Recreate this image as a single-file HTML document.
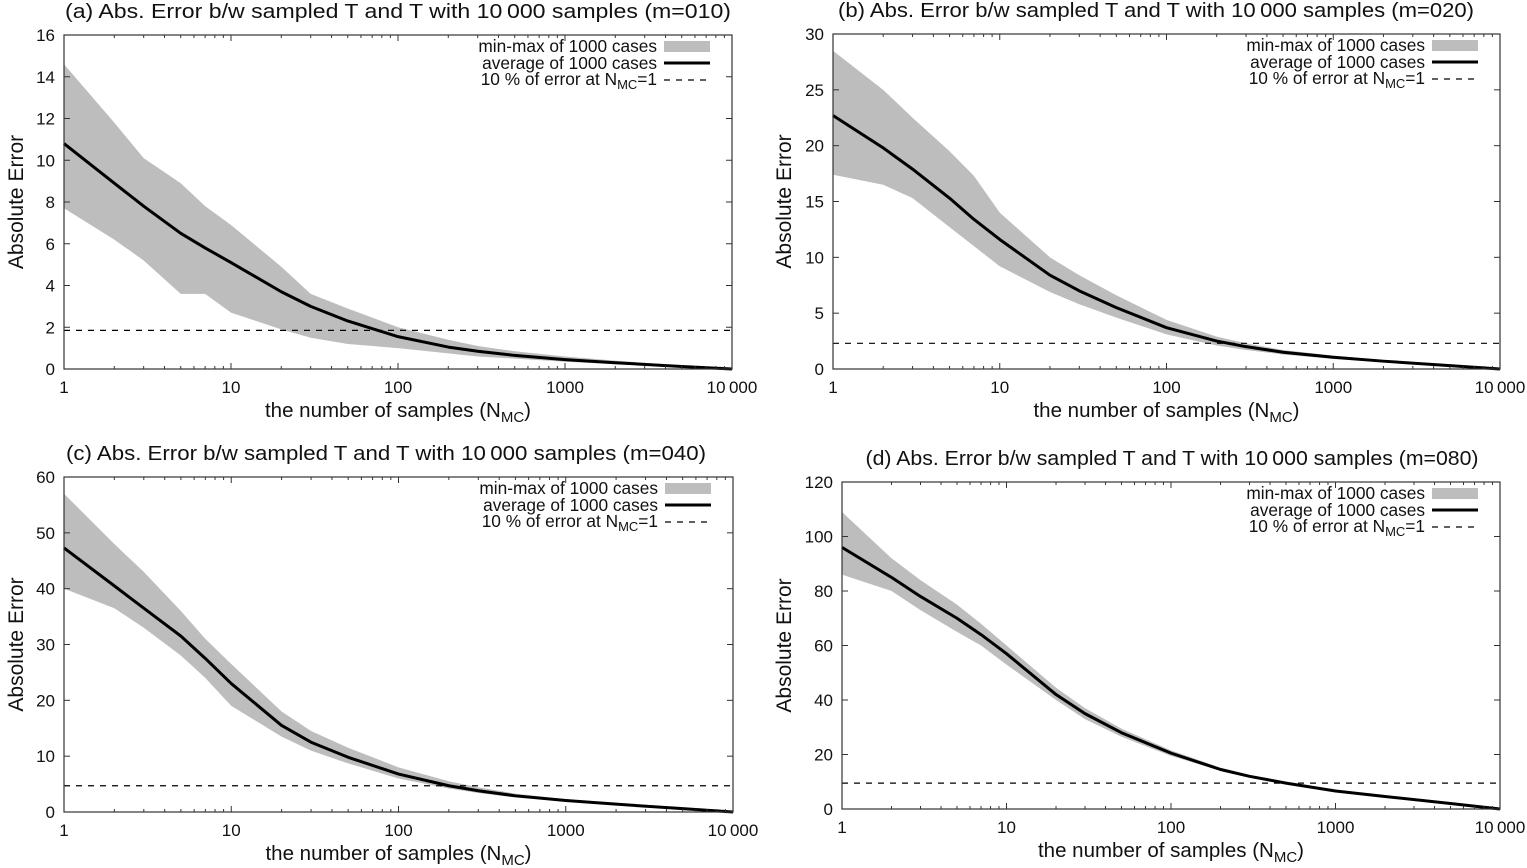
<!DOCTYPE html>
<html><head><meta charset="utf-8">
<style>
html,body{margin:0;padding:0;background:#fff;}
svg{display:block;font-family:"Liberation Sans",Arial,sans-serif;}
</style></head>
<body>
<svg id="fig" width="1527" height="868" viewBox="0 0 1527 868" xmlns="http://www.w3.org/2000/svg"></svg>
<script>
const xVals = [1,2,3,5,7,10,20,30,50,100,200,300,500,1000,2000,5000,10000];
const xTickLabels = ["1","10","100","1000","10\u2009000"];
const panelTitles = ["(a) Abs. Error b/w sampled T and T with 10\u2009000 samples (m=010)","(b) Abs. Error b/w sampled T and T with 10\u2009000 samples (m=020)","(c) Abs. Error b/w sampled T and T with 10\u2009000 samples (m=040)","(d) Abs. Error b/w sampled T and T with 10\u2009000 samples (m=080)"];
const yMaxes = [16,30,60,120];
const yTickLabelsA = [0,2,4,6,8,10,12,14,16];
const yTickLabelsB = [0,5,10,15,20,25,30];
const yTickLabelsC = [0,10,20,30,40,50,60];
const yTickLabelsD = [0,20,40,60,80,100,120];
const avgA = [10.8,8.9,7.8,6.5,5.8,5.1,3.7,3.0,2.3,1.55,1.05,0.85,0.65,0.45,0.3,0.12,0];
const maxA = [14.6,11.8,10.1,8.9,7.8,6.9,4.9,3.6,2.9,2.0,1.4,1.1,0.85,0.6,0.4,0.17,0];
const minA = [7.7,6.2,5.2,3.6,3.6,2.7,1.9,1.5,1.2,1.0,0.75,0.6,0.5,0.35,0.23,0.09,0];
const avgB = [22.7,19.8,17.9,15.3,13.4,11.6,8.4,7.0,5.5,3.7,2.5,2.0,1.5,1.05,0.7,0.3,0];
const maxB = [28.5,25,22.5,19.5,17.3,14,10,8.4,6.6,4.4,2.9,2.3,1.7,1.2,0.8,0.35,0];
const minB = [17.4,16.5,15.3,12.7,11,9.2,6.9,5.8,4.6,3.1,2.1,1.7,1.3,0.9,0.6,0.27,0];
const avgC = [47.3,40.5,36.5,31.5,27.5,23,15.5,12.5,9.8,6.8,4.7,3.8,2.9,2.05,1.4,0.6,0];
const maxC = [57,48,43,36,31,26.5,18,14.5,11.5,8,5.5,4.4,3.3,2.3,1.55,0.7,0];
const minC = [40,36.5,33,28,24,19,13.5,11,8.7,6,4.2,3.4,2.6,1.85,1.25,0.55,0];
const avgD = [96,85,78,70,64,57,42,35,28,20.5,14.5,12,9.5,6.6,4.6,2,0];
const maxD = [109,92,84,75,68,60,44.5,37,29.5,21.5,15.2,12.5,9.8,6.9,4.8,2.1,0];
const minD = [86,80,73,65,60,53,40,33,26.5,19.5,14,11.5,9.2,6.4,4.4,1.9,0];
const refLines = [1.85,2.3,4.7,9.5];

const NS="http://www.w3.org/2000/svg";
const svg=document.getElementById('fig');
function mk(tag,attrs,parent,text){const e=document.createElementNS(NS,tag);for(const k in attrs)e.setAttribute(k,attrs[k]);if(text!==undefined)e.textContent=text;(parent||svg).appendChild(e);return e;}

const panels=[
 {L:64,R:732,T:35,B:369,ticks:yTickLabelsA,avg:avgA,mx:maxA,mn:minA,yl:3,tc:398,tw:666},
 {L:833,R:1500,T:34,B:369,ticks:yTickLabelsB,avg:avgB,mx:maxB,mn:minB,yl:771,tc:1156,tw:636},
 {L:64,R:733,T:477,B:812,ticks:yTickLabelsC,avg:avgC,mx:maxC,mn:minC,yl:3,tc:386,tw:640},
 {L:842,R:1500,T:482,B:809,ticks:yTickLabelsD,avg:avgD,mx:maxD,mn:minD,yl:771,tc:1172,tw:613}
];
panels.forEach((p,i)=>{
  const g=mk('g',{});
  
  
  const xs=v=>p.L+Math.log10(v)/4*(p.R-p.L);
  const ys=v=>p.B-v/yMaxes[i]*(p.B-p.T);
  const t=mk('text',{x:p.tc,y:p.T-17,'text-anchor':'middle','font-size':20.5,fill:'#111',textLength:p.tw,lengthAdjust:'spacingAndGlyphs'},g,panelTitles[i]);
  
  
  let d='M'+xVals.map((v,k)=>xs(v)+','+ys(p.mx[k])).join('L');
  for(let k=xVals.length-1;k>=0;k--)d+='L'+xs(xVals[k])+','+ys(p.mn[k]);
  const band=mk('path',{d:d+'Z',fill:'#bdbdbd',stroke:'none'},g);
  
  
  const ref=mk('line',{x1:p.L,x2:p.R,y1:ys(refLines[i]),y2:ys(refLines[i]),stroke:'#000','stroke-width':1.2,'stroke-dasharray':'6,6'},g);
  
  
  const avg=mk('path',{d:'M'+xVals.map((v,k)=>xs(v)+','+ys(p.avg[k])).join('L'),fill:'none',stroke:'#000','stroke-width':3,'stroke-linejoin':'round'},g);
  
  
  const fr=mk('rect',{x:p.L,y:p.T,width:p.R-p.L,height:p.B-p.T,fill:'none',stroke:'#333','stroke-width':1.2},g);
  
  
  p.ticks.forEach(v=>{
    const y=ys(v);
    mk('line',{x1:p.L,x2:p.L+6,y1:y,y2:y,stroke:'#333'},g);
    mk('line',{x1:p.R,x2:p.R-6,y1:y,y2:y,stroke:'#333'},g);
    const l=mk('text',{x:p.L-9,y:y+6,'text-anchor':'end','font-size':17,fill:'#111'},g,String(v));
    
    
  });
  for(let dec=0;dec<=4;dec++){
    const x=xs(Math.pow(10,dec));
    mk('line',{x1:x,x2:x,y1:p.B,y2:p.B-6,stroke:'#333'},g);
    mk('line',{x1:x,x2:x,y1:p.T,y2:p.T+6,stroke:'#333'},g);
    const l=mk('text',{x:x,y:p.B+24,'text-anchor':'middle','font-size':17,fill:'#111'},g,xTickLabels[dec]);
    
    
    if(dec<4)for(let m=2;m<=9;m++){const xm=xs(m*Math.pow(10,dec));
      mk('line',{x1:xm,x2:xm,y1:p.B,y2:p.B-3,stroke:'#333'},g);
      mk('line',{x1:xm,x2:xm,y1:p.T,y2:p.T+3,stroke:'#333'},g);}
  }
  const xl=mk('text',{x:(p.L+p.R)/2,y:p.B+48,'text-anchor':'middle','font-size':20.5,fill:'#111'},g);
  
  
  xl.innerHTML='the number of samples (N<tspan font-size="15" dy="5">MC</tspan><tspan dy="-5">)</tspan>';
  const yl=mk('text',{x:0,y:0,'text-anchor':'middle','font-size':21,fill:'#111',transform:`translate(${p.yl+20},${(p.T+p.B)/2}) rotate(-90)`},g,'Absolute Error');
  
  
  const lx=p.R-75, ly=p.T+17;
  const lg=mk('g',{},g);
  
  
  mk('text',{x:lx,y:ly,'text-anchor':'end','font-size':17.3,fill:'#111'},lg,'min-max of 1000 cases');
  mk('rect',{x:lx+7,y:ly-11,width:46,height:11,fill:'#bdbdbd'},lg);
  mk('text',{x:lx,y:ly+17,'text-anchor':'end','font-size':17.3,fill:'#111'},lg,'average of 1000 cases');
  mk('line',{x1:lx+7,x2:lx+53,y1:ly+11,y2:ly+11,stroke:'#000','stroke-width':3},lg);
  const t3=mk('text',{x:lx,y:ly+33,'text-anchor':'end','font-size':17.3,fill:'#111'},lg);
  t3.innerHTML='10 % of error at N<tspan font-size="13" dy="4">MC</tspan><tspan dy="-4">=1</tspan>';
  mk('line',{x1:lx+7,x2:lx+53,y1:ly+28,y2:ly+28,stroke:'#000','stroke-width':1.2,'stroke-dasharray':'6,6'},lg);
});
</script>
</body></html>
